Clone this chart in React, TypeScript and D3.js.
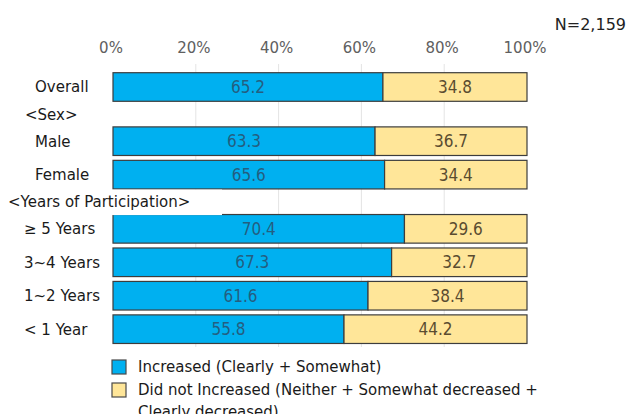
import React from "react";
import * as d3 from "d3";

const categories = ["Overall", "Male", "Female", "≥ 5 Years", "3~4 Years", "1~2 Years", "< 1 Year"];
const groupOf = ["overall", "sex", "sex", "years", "years", "years", "years"];
const increased = [65.2, 63.3, 65.6, 70.4, 67.3, 61.6, 55.8];
const notIncreased = [34.8, 36.7, 34.4, 29.6, 32.7, 38.4, 44.2];
const groupHeaders = [
  { label: "<Sex>", before: "Male" },
  { label: "<Years of Participation>", before: "≥ 5 Years" },
];
const tickValues = [0, 20, 40, 60, 80, 100];
const legendLabels = [
  ["Increased (Clearly + Somewhat)"],
  ["Did not Increased (Neither + Somewhat decreased +", "Clearly decreased)"],
];
const sampleNote = "N=2,159";

const W = 629;
const H = 414;
const BLUE = "#00b0f0";
const YELLOW = "#ffe699";
const FONT = "'DejaVu Sans', Verdana, sans-serif";
const NUMFONT = "'Liberation Sans Narrow', 'DejaVu Sans Condensed', 'Liberation Sans', sans-serif";

export default function App() {
  const x = d3.scaleLinear().domain([0, 100]).range([113, 527]);

  // slot positions: group header rows take a partial slot
  const slots: number[] = [];
  const headerSlots: number[] = [];
  let s = 0;
  categories.forEach((c) => {
    const h = groupHeaders.find((g) => g.before === c);
    if (h) {
      headerSlots.push(s - 1 + 0.82);
      s += 0.62;
    }
    slots.push(s);
    s += 1;
  });
  const y = d3.scaleLinear().domain([0, 1]).range([87, 87 + 33.45]);
  const barH = 28.6;

  const labelX: Record<string, number> = { overall: 35, sex: 35, years: 24 };
  const headerX = [25, 8];

  const stackData = categories.map((c, i) => ({ c, inc: increased[i], not: notIncreased[i] }));
  const stack = d3.stack<any>().keys(["inc", "not"])(stackData);
  const colors = [BLUE, YELLOW];
  const textColors = ["#245e80", "#5a4c30"];

  return (
    <svg
      width={W}
      height={H}
      style={{ position: "absolute", left: 0, top: 0, background: "#fff" }}
    >
      <rect x={0} y={0} width={W} height={H} fill="#fff" />
      {/* N note */}
      <text x={626} y={30} textAnchor="end" fontFamily={FONT} fontSize={16} fill="#222">
        {sampleNote}
      </text>
      {/* gridlines */}
      {tickValues.slice(1, -1).map((t) => (
        <line key={t} x1={x(t)} x2={x(t)} y1={64} y2={347} stroke="#e4e4e4" strokeWidth={1} />
      ))}
      {/* tick labels */}
      {tickValues.map((t) => (
        <text key={t} x={x(t) - 2} y={53} textAnchor="middle" fontFamily={FONT} fontSize={15} fill="#606060">
          {`${t}%`}
        </text>
      ))}
      {/* bars */}
      {stack.map((layer, li) =>
        layer.map((d, i) => {
          const yc = y(slots[i]);
          const x0 = x(d[0]);
          const x1 = x(d[1]);
          return (
            <rect key={`${li}-${i}`} x={x0} y={yc - barH / 2} width={x1 - x0} height={barH} fill={colors[li]} stroke="#3d3d3d" strokeWidth={1.2} />
          );
        })
      )}
      {/* white background of header label */}
      {groupHeaders.map((g, gi) =>
        gi === 1 ? (
          <rect key={g.label} x={0} y={y(headerSlots[gi]) - 12.5} width={222} height={25.5} fill="#fff" />
        ) : null
      )}
      {/* value labels */}
      {stack.map((layer, li) =>
        layer.map((d, i) => {
          const yc = y(slots[i]);
          const xm = (x(d[0]) + x(d[1])) / 2;
          return (
            <text key={`v${li}-${i}`} x={xm} y={yc} dy="0.36em" textAnchor="middle" fontFamily={NUMFONT} fontSize={17} fill={textColors[li]}>
              {(d[1] - d[0]).toFixed(1)}
            </text>
          );
        })
      )}
      {/* category labels */}
      {categories.map((c, i) => (
        <text key={c} x={labelX[groupOf[i]]} y={y(slots[i])} dy="0.36em" fontFamily={FONT} fontSize={15} fill="#1a1a1a">
          {c}
        </text>
      ))}
      {groupHeaders.map((g, gi) => (
        <text key={g.label} x={headerX[gi]} y={y(headerSlots[gi])} dy="0.36em" fontFamily={FONT} fontSize={15} fill="#1a1a1a">
          {g.label}
        </text>
      ))}
      {/* legend */}
      {legendLabels.map((lines, li) => (
        <g key={li}>
          <rect x={112} y={360 + li * 23} width={14} height={14} fill={colors[li]} stroke="#4a4a4a" strokeWidth={1.2} />
          {lines.map((ln, k) => (
            <text key={k} x={138} y={367 + li * 23 + k * 22} dy="0.36em" fontFamily={FONT} fontSize={15} fill="#1a1a1a">
              {ln}
            </text>
          ))}
        </g>
      ))}
    </svg>
  );
}
